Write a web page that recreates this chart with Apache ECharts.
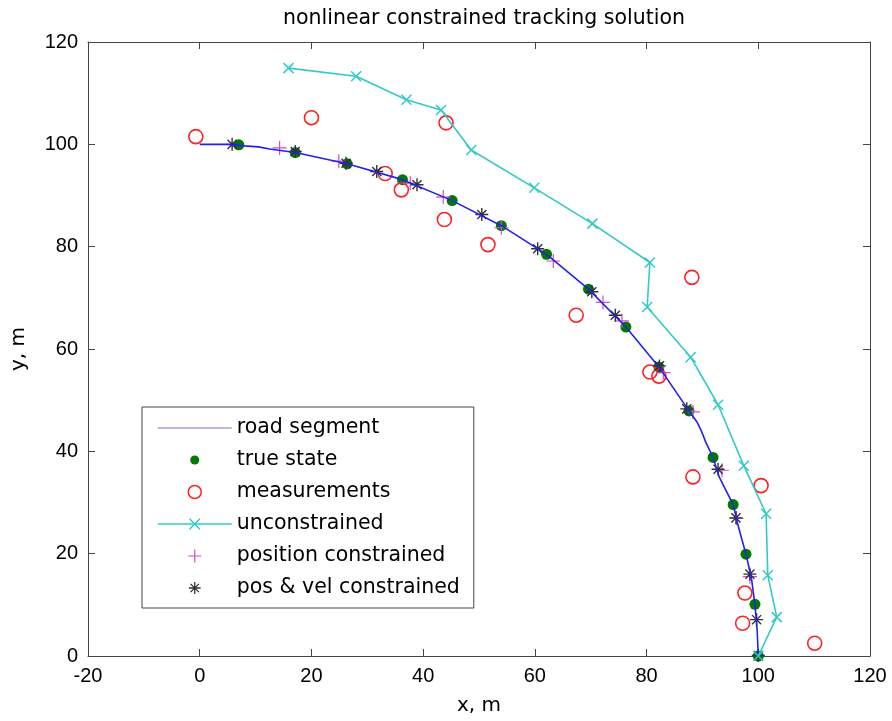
<!DOCTYPE html>
<html>
<head>
<meta charset="utf-8">
<title>nonlinear constrained tracking solution</title>
<script src="https://cdn.jsdelivr.net/npm/echarts@6/dist/echarts.min.js"></script>
<style>
	html, body { margin: 0; padding: 0; background: #fff; }
	#com-container { width: 892px; height: 721px; }
</style>
</head>
<body>
<div id="com-container"></div>
<script>
	// road segment (traced)
	var roadX = [0, 5, 8, 10.5, 12.5, 17.1, 26.4, 36.3, 45.2, 54.0, 62.1, 69.6, 76.3, 82.2, 87.6, 89.0, 89.8, 90.6, 91.9, 93.0, 95.5, 96.5, 97.8, 98.8, 99.4, 99.8, 100];
	var roadY = [100, 100, 99.7, 99.5, 99.1, 98.4, 96.2, 93.1, 89.0, 84.1, 78.5, 71.7, 64.3, 56.5, 47.9, 45.8, 44.0, 41.8, 38.8, 35.0, 29.6, 25.0, 19.9, 15.0, 10.1, 5.0, 0];

	var trueX = [7.0, 17.1, 26.4, 36.3, 45.2, 54.0, 62.1, 69.6, 76.3, 82.2, 87.6, 91.9, 95.5, 97.8, 99.4, 100.0];
	var trueY = [99.9, 98.4, 96.2, 93.1, 89.0, 84.1, 78.5, 71.7, 64.3, 56.5, 47.9, 38.8, 29.6, 19.9, 10.1, 0.0];

	var measX = [-0.7, 20.0, 44.1, 33.2, 36.1, 43.8, 51.6, 67.4, 88.1, 80.6, 82.2, 88.3, 100.5, 97.6, 97.2, 110.1];
	var measY = [101.5, 105.2, 104.2, 94.3, 91.1, 85.3, 80.4, 66.6, 74.0, 55.5, 54.7, 35.0, 33.3, 12.3, 6.4, 2.5];

	var unconX = [15.9, 28.0, 37.0, 43.2, 48.6, 59.9, 70.3, 80.6, 80.1, 87.9, 92.8, 97.4, 101.4, 101.7, 103.3, 100.0];
	var unconY = [114.9, 113.3, 108.7, 106.7, 98.9, 91.5, 84.5, 76.9, 68.2, 58.4, 49.1, 37.2, 27.8, 15.8, 7.6, 0.0];

	var posX = [14.3, 24.9, 37.7, 43.6, 54.0, 63.3, 72.2, 75.6, 83.0, 88.3, 93.5, 96.1, 98.5];
	var posY = [99.3, 96.7, 92.4, 89.7, 83.7, 77.2, 69.1, 65.5, 55.4, 47.7, 36.3, 26.9, 15.5];

	var pvX = [5.8, 17.1, 26.2, 31.7, 38.9, 50.5, 60.5, 70.2, 74.4, 82.3, 87.2, 92.8, 96.0, 98.5, 99.7, 100.0];
	var pvY = [100.0, 98.6, 96.3, 94.7, 92.1, 86.3, 79.6, 71.2, 66.6, 56.7, 48.3, 36.5, 27.0, 16.0, 7.1, 0.1];

	var xTicks = [-20, 0, 20, 40, 60, 80, 100, 120];
	var yTicks = [0, 20, 40, 60, 80, 100, 120];

	var PLUS = 'path://M0,5L10,5M5,0L5,10';
	var CROSS = 'path://M0,0L10,10M0,10L10,0';
	var STAR = 'path://M5,0L5,10M0,5L10,5M1.5,1.5L8.5,8.5M1.5,8.5L8.5,1.5';

	var tickFont = 'Liberation Sans, Arial, sans-serif';
	var textFont = 'DejaVu Sans, sans-serif';

	function pairs(xs, ys) {
		var out = [];
		for (var i = 0; i < xs.length; i++) {
			out.push([xs[i], ys[i]]);
		}
		return out;
	}

	function axisX(pos, labels) {
		return {
			type: 'value', position: pos,
			min: xTicks[0], max: xTicks[xTicks.length - 1], interval: 20,
			axisLine: { show: true, onZero: false, lineStyle: { color: '#444', width: 1 } },
			axisTick: { show: true, inside: true, length: 7, lineStyle: { color: '#444' } },
			axisLabel: { show: labels, margin: 10, color: '#000', fontSize: 20, fontFamily: tickFont },
			splitLine: { show: false }
		};
	}
	function axisY(pos, labels) {
		return {
			type: 'value', position: pos,
			min: yTicks[0], max: yTicks[yTicks.length - 1], interval: 20,
			axisLine: { show: true, onZero: false, lineStyle: { color: '#444', width: 1 } },
			axisTick: { show: true, inside: true, length: 7, lineStyle: { color: '#444' } },
			axisLabel: { show: labels, margin: 10, color: '#000', fontSize: 20, fontFamily: tickFont },
			splitLine: { show: false }
		};
	}

	var xMain = axisX('bottom', true);
	xMain.name = 'x, m';
	xMain.nameLocation = 'middle';
	xMain.nameGap = 40;
	xMain.nameTextStyle = { color: '#000', fontSize: 20, fontFamily: textFont };
	var yMain = axisY('left', true);
	yMain.name = 'y, m';
	yMain.nameLocation = 'middle';
	yMain.nameGap = 59;
	yMain.nameTextStyle = { color: '#000', fontSize: 20, fontFamily: textFont };

	var myChart = echarts.init(document.getElementById('com-container'));

	var option = {
		animation: false,
		backgroundColor: '#fff',
		title: {
			text: 'nonlinear constrained tracking solution',
			left: 479, top: 3, textAlign: 'center',
			textStyle: { color: '#000', fontSize: 20.5, fontWeight: 'normal', fontFamily: textFont }
		},
		grid: { left: 88, right: 22, top: 42, bottom: 63 },
		xAxis: [xMain, axisX('top', false)],
		yAxis: [yMain, axisY('right', false)],
		legend: {
			orient: 'vertical',
			left: 142, top: 407,
			padding: [10, 14, 9, 15],
			itemWidth: 74, itemHeight: 13, itemGap: 10,
			backgroundColor: '#fff',
			borderColor: '#444', borderWidth: 1,
			textStyle: { color: '#000', fontSize: 20.5, lineHeight: 22, fontFamily: textFont },
			data: [
				{ name: 'road segment', icon: 'path://M0,0M74,13M0,6.5L74,6.5',
					itemStyle: { color: 'transparent', borderColor: '#7070f0', borderWidth: 1.2 } },
				{ name: 'true state', icon: 'path://M0,0M13,13M2,6.5A4.5,4.5,0,1,1,11,6.5A4.5,4.5,0,1,1,2,6.5Z',
					itemStyle: { color: '#007a00', borderWidth: 0 } },
				{ name: 'measurements', icon: 'circle',
					itemStyle: { color: 'transparent', borderColor: '#f22', borderWidth: 1.5 } },
				{ name: 'unconstrained',
					itemStyle: { color: 'transparent', borderColor: '#33c9c9', borderWidth: 1.5 },
					lineStyle: { color: '#33c9c9', width: 1.5 } },
				{ name: 'position constrained', icon: PLUS,
					itemStyle: { color: 'transparent', borderColor: '#d04cd0', borderWidth: 1.2 } },
				{ name: 'pos & vel constrained', icon: 'path://M-0.5,-0.5M10.5,10.5' + STAR.slice(7),
					itemStyle: { color: 'transparent', borderColor: '#333', borderWidth: 1.3 } }
			]
		},
		series: [
			{
				name: 'road segment', type: 'line', data: pairs(roadX, roadY),
				showSymbol: false, symbol: 'none',
				lineStyle: { color: '#2222ee', width: 1.6 },
				itemStyle: { color: '#2222ee' }
			},
			{
				name: 'true state', type: 'scatter', data: pairs(trueX, trueY),
				symbol: 'circle', symbolSize: 11,
				itemStyle: { color: '#007a00', opacity: 1 }
			},
			{
				name: 'measurements', type: 'scatter', data: pairs(measX, measY),
				symbol: 'circle', symbolSize: 14,
				itemStyle: { color: 'transparent', borderColor: '#f22', borderWidth: 1.6, opacity: 1 }
			},
			{
				name: 'unconstrained', type: 'line', data: pairs(unconX, unconY),
				symbol: CROSS, symbolSize: 10, showSymbol: true,
				lineStyle: { color: '#33c9c9', width: 1.6 },
				itemStyle: { color: 'transparent', borderColor: '#33c9c9', borderWidth: 1.5 }
			},
			{
				name: 'position constrained', type: 'scatter', data: pairs(posX, posY),
				symbol: PLUS, symbolSize: 14,
				itemStyle: { color: 'transparent', borderColor: '#d04cd0', borderWidth: 1.2, opacity: 1 }
			},
			{
				name: 'pos & vel constrained', type: 'scatter', data: pairs(pvX, pvY),
				symbol: STAR, symbolSize: 13,
				itemStyle: { color: 'transparent', borderColor: '#333', borderWidth: 1.4, opacity: 1 }
			}
		]
	};

	myChart.setOption(option);
</script>
</body>
</html>
